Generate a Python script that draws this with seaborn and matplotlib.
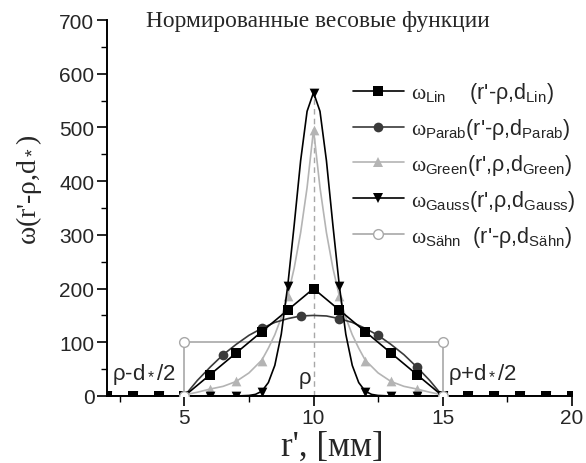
import numpy as np
import pandas as pd
import matplotlib
matplotlib.use("Agg")
import matplotlib.pyplot as plt
from matplotlib.lines import Line2D
from matplotlib.ticker import MultipleLocator
import seaborn as sns

# ---------------- data ----------------
x_int = [2, 3, 4, 5, 6, 7, 8, 9, 10, 11, 12, 13, 14, 15, 16, 17, 18, 19, 20]
lin_y = [0, 0, 0, 0, 40, 80, 120, 160, 200, 160, 120, 80, 40, 0, 0, 0, 0, 0, 0]
gauss_mk = [0, 0, 0, 0, 0, 0, 8, 205, 565, 205, 8, 0, 0, 0, 0, 0, 0, 0, 0]
green_mk = [0, 0, 0, 2, 13, 27, 66, 186, 496, 186, 66, 27, 13, 2, 0, 0, 0, 0, 0]

parab_mx = [5, 6.5, 8, 9.5, 11, 12.5, 14]
parab_my = [0, 77, 126, 149, 144, 113, 54]

# curves
parab_cx = [2, 5, 5.5, 6, 6.5, 7, 7.5, 8, 8.5, 9, 9.5, 10, 10.5, 11, 11.5, 12, 12.5, 13, 13.5, 14, 14.5, 15, 20]
parab_cy = [0, 0, 29, 54, 77, 96, 113, 126, 137, 144, 149, 150, 149, 144, 137, 126, 113, 96, 77, 54, 29, 0, 0]

gauss_cx = [2, 6.5, 7, 7.5, 7.75, 8, 8.25, 8.5, 8.75, 9, 9.25, 9.5, 9.75, 10,
            10.25, 10.5, 10.75, 11, 11.25, 11.5, 11.75, 12, 12.25, 12.5, 13, 13.5, 20]
gauss_cy = [0, 0, 0, 1, 3, 9, 25, 57, 115, 205, 318, 438, 530, 565,
            530, 438, 318, 205, 115, 57, 25, 9, 3, 1, 0, 0, 0]

green_cx = [2, 4.9, 5, 5.5, 6, 6.5, 7, 7.5, 8, 8.25, 8.5, 8.75, 9, 9.25, 9.5, 9.75, 10,
            10.25, 10.5, 10.75, 11, 11.25, 11.5, 11.75, 12, 12.5, 13, 13.5, 14, 14.5, 15, 15.1, 20]
green_cy = [0, 0, 2, 7, 13, 18, 27, 43, 67, 89, 114, 146, 186, 238, 304, 388, 496,
            388, 304, 238, 186, 146, 114, 89, 67, 43, 27, 18, 13, 7, 2, 0, 0]

sahn_x = [2, 5, 5, 15, 15, 20]
sahn_y = [0, 0, 100, 100, 0, 0]
sahn_mx = [5, 5, 15, 15]
sahn_my = [0, 100, 100, 0]

rho = 10
rho_top = 575

title_text = "Нормированные весовые функции"
xlabel_text = "r', [мм]"
ylabel_text = r"ω(r'-ρ,d$_*$)"
labels = [r"$\omega_{\mathrm{Lin}}$    (r'-ρ,d$_{\mathrm{Lin}}$)",
          r"$\omega_{\mathrm{Parab}}$(r'-ρ,d$_{\mathrm{Parab}}$)",
          r"$\omega_{\mathrm{Green}}$(r',ρ,d$_{\mathrm{Green}}$)",
          r"$\omega_{\mathrm{Gauss}}$(r',ρ,d$_{\mathrm{Gauss}}$)",
          r"$\omega_{\mathrm{Sähn}}$  (r'-ρ,d$_{\mathrm{Sähn}}$)"]

# ---------------- style ----------------
sns.set_theme(style="ticks")
plt.rcParams["font.family"] = ["Liberation Sans", "DejaVu Sans"]
plt.rcParams["mathtext.fontset"] = "custom"
plt.rcParams["mathtext.rm"] = "Liberation Sans"
plt.rcParams["mathtext.it"] = "Liberation Serif"
plt.rcParams["mathtext.bf"] = "Liberation Sans:bold"

C_LIN = "#000000"
C_PAR = "#3a3a3a"
C_GRN = "#b4b4b4"
C_GAU = "#000000"
C_SAH = "#a8a8a8"

fig = plt.figure(figsize=(5.86, 4.64), dpi=100)
ax = fig.add_axes([107 / 586, 1 - 397 / 464, (571.7 - 107) / 586, (397 - 21) / 464])

lw = 1.2
ms = 7

# dashed line at rho
ax.plot([rho, rho], [0, rho_top], color="#a8a8a8", lw=1.0, ls=(0, (4, 3)), zorder=1)

# Sähn
sns.lineplot(x=sahn_x, y=sahn_y, ax=ax, color=C_SAH, lw=lw, sort=False, estimator=None, zorder=2)
sns.lineplot(x=sahn_mx, y=sahn_my, ax=ax, color=C_SAH, lw=0, marker="o", markersize=ms,
             markerfacecolor="white", markeredgecolor=C_SAH, markeredgewidth=1.0,
             sort=False, estimator=None, zorder=6)

# Green
sns.lineplot(x=green_cx, y=green_cy, ax=ax, color=C_GRN, lw=lw, estimator=None, zorder=3)
sns.scatterplot(x=x_int, y=green_mk, ax=ax, color=C_GRN, marker="^", s=ms ** 2, linewidth=0, zorder=3)

# Parab
sns.lineplot(x=parab_cx, y=parab_cy, ax=ax, color=C_PAR, lw=lw, estimator=None, zorder=4)
sns.scatterplot(x=parab_mx, y=parab_my, ax=ax, color=C_PAR, marker="o", s=ms ** 2, linewidth=0, zorder=4)

# Lin
sns.lineplot(x=x_int, y=lin_y, ax=ax, color=C_LIN, lw=lw, estimator=None, zorder=5)
sns.scatterplot(x=x_int, y=lin_y, ax=ax, color=C_LIN, marker="s", s=(ms * 0.95) ** 2, linewidth=0, zorder=5)

# Gauss
sns.lineplot(x=gauss_cx, y=gauss_cy, ax=ax, color=C_GAU, lw=lw, estimator=None, zorder=5)
sns.scatterplot(x=x_int, y=gauss_mk, ax=ax, color=C_GAU, marker="v", s=ms ** 2, linewidth=0, zorder=5)

# clip marks strictly to the plotting area
for art in list(ax.lines) + list(ax.collections):
    art.set_clip_on(True)
    art.set_clip_path(ax.patch)

ax.set_xlim(2, 20)
ax.set_ylim(0, 700)
ax.xaxis.set_major_locator(MultipleLocator(5))
ax.xaxis.set_minor_locator(MultipleLocator(2.5))
ax.yaxis.set_major_locator(MultipleLocator(100))
ax.yaxis.set_minor_locator(MultipleLocator(50))
ax.tick_params(which="major", direction="out", length=7, width=1.2, labelsize=15, pad=2, color="black")
ax.tick_params(which="minor", direction="out", length=4, width=1.0, color="black")
sns.despine(ax=ax)
for s in ("left", "bottom"):
    ax.spines[s].set_linewidth(1.4)
    ax.spines[s].set_color("black")
ax.set_xlabel("")
ax.set_ylabel("")

# annotations
ax.text(2.2, 42, r"ρ-d$_*$/2", fontsize=16, ha="left", va="center")
ax.text(15.2, 42, r"ρ+d$_*$/2", fontsize=16, ha="left", va="center")
ax.text(9.9, 35, "ρ", fontsize=16, ha="right", va="center")

# titles / labels
fig.text(318 / 586, 1 - 22 / 464, title_text, fontsize=16.8, family="Liberation Serif",
         ha="center", va="center")
fig.text(332 / 586, 1 - 447 / 464, xlabel_text, fontsize=25, family="Liberation Serif",
         ha="center", va="center")
fig.text(29 / 586, 1 - 190 / 464, ylabel_text, fontsize=20, family="Liberation Serif",
         ha="center", va="center", rotation=90)

# legend
handles = [
    Line2D([], [], color=C_LIN, lw=lw, marker="s", markersize=ms * 0.95, markeredgewidth=0),
    Line2D([], [], color=C_PAR, lw=lw, marker="o", markersize=ms, markeredgewidth=0),
    Line2D([], [], color=C_GRN, lw=lw, marker="^", markersize=ms, markeredgewidth=0),
    Line2D([], [], color=C_GAU, lw=lw, marker="v", markersize=ms, markeredgewidth=0),
    Line2D([], [], color=C_SAH, lw=lw, marker="o", markersize=ms, markerfacecolor="white",
           markeredgecolor=C_SAH, markeredgewidth=1.0),
]
leg = ax.legend(handles, labels, loc="upper left", bbox_to_anchor=(0.51, 0.862),
                frameon=False, fontsize=15.5, handlelength=2.4, handletextpad=0.3,
                labelspacing=0.5, borderaxespad=0)

fig.savefig("out.png", dpi=100)
